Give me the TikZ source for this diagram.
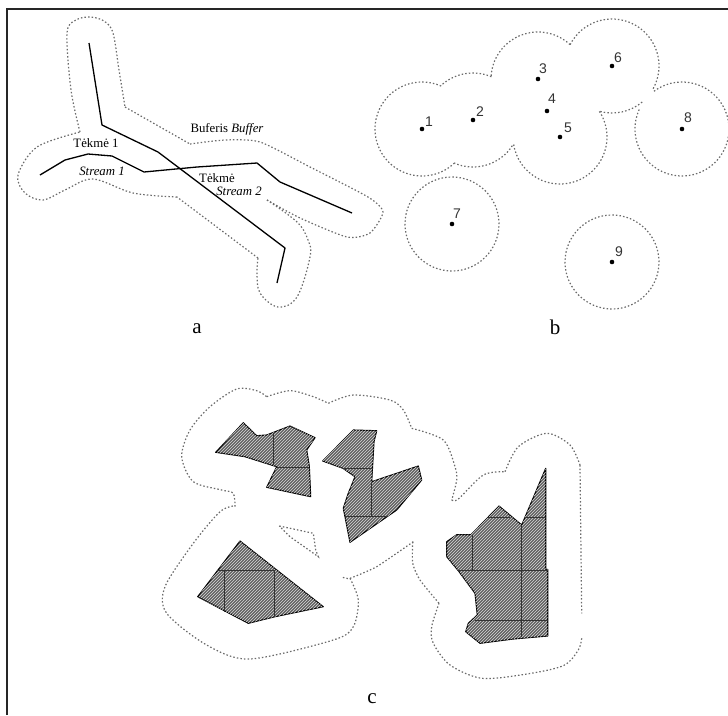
\documentclass[tikz,border=0pt]{standalone}
\usepackage{fontspec}
\setmainfont{Liberation Serif}
\newfontfamily\digitfont{Liberation Sans}
\usetikzlibrary{patterns}
\tikzset{
  buf/.style={line width=1.2pt,black!58,dash pattern=on 1.5pt off 2.1pt},
  riverline/.style={line width=1.3pt,black,line join=round},
  solid block/.style={draw=black,line width=1.1pt,line join=round,fill=black!62,postaction={pattern=north east lines,pattern color=white!85!black}},
  gridline/.style={line width=0.6pt,black!80},
  pt/.style={circle,fill=black,inner sep=0pt,minimum size=4.6pt},
  numlab/.style={font=\digitfont\fontsize{14}{14}\selectfont,text=black!80,inner sep=0pt},
  lab/.style={font=\fontsize{12.8}{13}\selectfont,inner sep=0pt},
  panel/.style={font=\fontsize{21}{21}\selectfont,inner sep=0pt}
}
\begin{document}
\begin{tikzpicture}[x=1pt,y=-1pt]
\useasboundingbox (0,0) rectangle (728,715);
\draw[line width=1.5pt,black!85] (7,715) -- (7,9) -- (728,9);

% --- a
\draw[buf] plot[smooth,tension=0.55] coordinates {(80,132) (71,90) (67,33) (76,20) (90,17) (104,21) (113,33) (119,70) (125,107)};
\draw[buf] (125,107) -- (190,144);
\draw[buf] plot[smooth,tension=0.4] coordinates {(190,144) (225,140) (260,142) (310,167) (368,197) (383,212) (370,233) (347,237) (300,218) (267,200)};
\draw[buf] plot[smooth,tension=0.6] coordinates {(267,200) (297,222) (308,240) (310,257) (297,297) (278,307) (260,293) (257,273) (258,258)};
\draw[buf] (258,258) -- (177,197);
\draw[buf] plot[smooth,tension=0.55] coordinates {(177,197) (133,193) (93,179) (65,190) (43,200) (25,193) (18,175) (37,147) (80,132)};
\draw[riverline] (89,43) -- (102,125) -- (158,152) -- (285,248) -- (277,283);
\draw[riverline] (40,175) -- (65,160) -- (88,154) -- (112,156) -- (144,172) -- (197,167) -- (257,163) -- (280,182) -- (352,213);
\node[lab] (t1) at (96,143) {Tėkmė 1};
\node[lab] (s1) at (102,171) {\textit{Stream 1}};
\node[lab] (t2) at (217,178) {Tėkmė};
\node[lab] (s2) at (239,191) {\textit{Stream 2}};
\node[lab] (bf) at (227,129) {Buferis \textit{Buffer}};
\node[panel] (pa) at (197,329) {a};

% --- b
\coordinate (c1) at (422,129);
\coordinate (c2) at (473,120);
\coordinate (c3) at (538,79);
\coordinate (c4) at (547,111);
\coordinate (c5) at (560,137);
\coordinate (c6) at (612,66);
\coordinate (c7) at (452,224);
\coordinate (c8) at (682,129);
\coordinate (c9) at (612,262);
\draw[buf] (c1) ++(66:47pt) arc[start angle=66,end angle=313,radius=47pt];
\draw[buf] (c2) ++(246:47pt) arc[start angle=246,end angle=328,radius=47pt];
\draw[buf] (c2) ++(67:47pt) arc[start angle=67,end angle=133,radius=47pt];
\draw[buf] (c3) ++(47:47pt) arc[start angle=47,end angle=177,radius=47pt];
\draw[buf] (c6) ++(153:47pt) arc[start angle=153,end angle=-30,radius=47pt];
\draw[buf] (c6) ++(-50:47pt) arc[start angle=-50,end angle=-106,radius=47pt];
\draw[buf] (c5) ++(33:47pt) arc[start angle=33,end angle=-171.5,radius=47pt];
\draw[buf] (c8) ++(126.6:47pt) arc[start angle=126.6,end angle=-207,radius=47pt];
\draw[buf] (c7) circle[radius=47pt];
\draw[buf] (c9) circle[radius=47pt];
\foreach \n/\lx/\ly in {1/429/122,2/480/112,3/543/69,4/552/99,5/568/128,6/618/58,7/457/214,8/688/118,9/619/252}{
  \node[pt] (p\n) at (c\n) {};
  \node[numlab] (n\n) at (\lx,\ly) {\n};
}
\node[panel] (pb) at (555,327) {b};

% --- c
\path[solid block] (215.7,452.3) -- (243.3,422.7) -- (256.7,435.7) -- (266.7,435) -- (290,426) -- (315,437.7) -- (306.7,450) -- (309.3,466) -- (310.7,496.7) -- (266.7,487.3) -- (276.7,466.7) -- (245,456.7) -- cycle;
\draw[gridline] (276.7,467.7) -- (309.3,467.7) (273.3,433.3) -- (273.3,465);
\path[solid block] (322.7,461) -- (353.3,430) -- (376.7,430.7) -- (374,441.7) -- (371.7,481.7) -- (418.3,466) -- (421.7,480) -- (396.7,510) -- (350,542.3) -- (345,516.7) -- (343.3,508.3) -- (348.3,493.3) -- (355,476.7) -- (343,468.3) -- cycle;
\draw[gridline] (343,468.3) -- (371.7,468.3) (345,516.7) -- (388.3,516.7) (371.7,481.7) -- (371.7,516.7);
\path[solid block] (240,541) -- (323.3,606.7) -- (275,616.7) -- (248.3,623.3) -- (197.7,596.7) -- cycle;
\draw[gridline] (216.7,570.7) -- (275,570.7) (224,570.7) -- (224,612) (274,570.7) -- (274,616.7);
\path[solid block] (545.7,468.3) -- (545.7,569.3) -- (547.7,569.3) -- (547.7,636) -- (513.3,639) -- (480,643.3) -- (465.7,631.7) -- (468.3,623.3) -- (477.3,615) -- (475,593.3) -- (458.3,570.7) -- (446.7,556.7) -- (446.7,541.7) -- (456.7,534.7) -- (471,534.7) -- (499,506) -- (521.7,525) -- cycle;
\draw[gridline] (488.3,517.3) -- (510,517.3) (526,517.3) -- (545.7,517.3) (458.3,570.7) -- (547.7,570.7) (475,620) -- (547.7,620) (472.7,534.7) -- (472.7,570.7) (521.7,525) -- (521.7,637);

\draw[buf] plot[smooth,tension=0.5] coordinates {(235,506.7) (233.3,493.3) (221.7,490) (193.3,481.7) (181.7,456.7) (190,430) (210,406.7) (236.7,389) (256.7,390.7) (266.7,396.7)};
\draw[buf] plot[smooth,tension=0.5] coordinates {(266.7,396.7) (290,390.7) (313.3,396.7) (328.3,403.3)};
\draw[buf] plot[smooth,tension=0.5] coordinates {(328.3,403.3) (353.3,395) (390,400) (403.3,410) (411.7,428.3)};
\draw[buf] plot[smooth,tension=0.5] coordinates {(411.7,428.3) (443.3,440) (455,466.7) (456.7,480) (451.7,500)};
\draw[buf] plot[smooth,tension=0.5] coordinates {(451.7,500) (458.3,499) (483.3,475) (505,471.7)};
\draw[buf] plot[smooth,tension=0.5] coordinates {(505,471.7) (518.3,446.7) (546.7,433.3) (570,445) (580,465)};
\draw[buf] (580,465) -- (581.7,613.3);
\draw[buf] plot[smooth,tension=0.5] coordinates {(581.7,638.3) (578.3,650) (563.3,665.7) (525,674.3) (481.7,678.3) (450,665) (433.3,643.3) (431.7,626.7) (439,603.3)};
\draw[buf] plot[smooth,tension=0.4] coordinates {(439,603.3) (420,580) (412.7,563.3) (412.7,541.7)};
\draw[buf] plot[smooth,tension=0.3] coordinates {(413.3,541.7) (376.7,566.7) (350,578.3) (342.7,577.3)};
\draw[buf] plot[smooth,tension=0.5] coordinates {(350,578.3) (358.3,600) (353.3,626.7) (333.3,640) (250,659) (206.7,645) (166.7,613.3) (165,586.7) (193.3,543.3) (220,511.7) (235,505.7)};
\draw[buf] (279.3,526) -- (313.3,533.3) -- (315.7,550) -- (318.3,556.7) -- (290,536.7) -- (279.3,526);
\node[panel] (pc) at (372,699) {c};
\end{tikzpicture}
\end{document}
